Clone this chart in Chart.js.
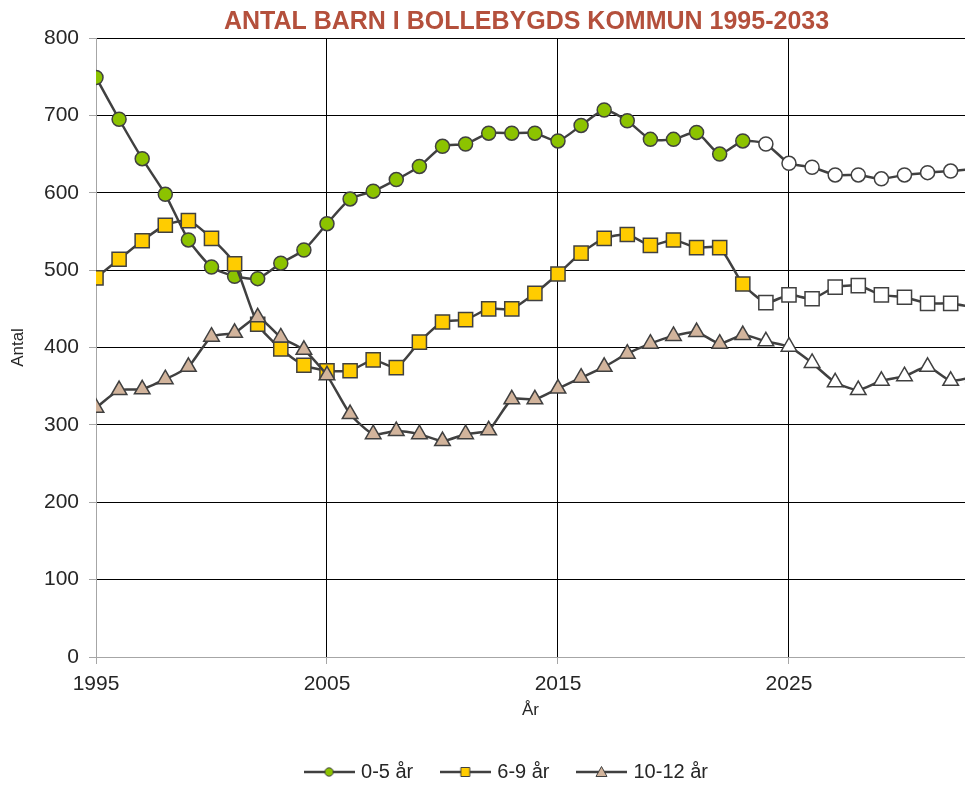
<!DOCTYPE html>
<html lang="sv">
<head>
<meta charset="utf-8">
<title>Antal barn i Bollebygds kommun 1995-2033</title>
<script src="https://cdn.jsdelivr.net/npm/chart.js@4"></script>
<style>
  html, body { margin: 0; padding: 0; background: #fff; overflow: hidden; }
  #wrap { position: relative; width: 965px; height: 789px; }
</style>
</head>
<body>
<div id="wrap"><canvas id="chart"></canvas></div>
<script>
// ── Data ───────────────────────────────────────────
const years = [
  1995, 1996, 1997, 1998, 1999, 2000, 2001, 2002, 2003, 2004,
  2005, 2006, 2007, 2008, 2009, 2010, 2011, 2012, 2013, 2014,
  2015, 2016, 2017, 2018, 2019, 2020, 2021, 2022, 2023, 2024,
  2025, 2026, 2027, 2028, 2029, 2030, 2031, 2032, 2033,
];
const age0to5 = [
  749, 695, 644, 598, 539, 504, 492, 489, 509, 526,
  560, 592, 602, 617, 634, 660, 663, 677, 677, 677,
  667, 687, 707, 693, 669, 669, 678, 650, 667, 663,
  638, 633, 623, 623, 618, 623, 626, 628, 631,
];
const age6to9 = [
  490, 514, 538, 558, 564, 541, 508, 430, 398, 377,
  370, 370, 384, 374, 407, 433, 436, 450, 450, 470,
  495, 522, 541, 546, 532, 539, 529, 529, 482, 458,
  468, 463, 478, 480, 468, 465, 457, 457, 452,
];
const age10to12 = [
  322, 345, 346, 359, 375, 414, 419, 439, 413, 397,
  364, 314, 288, 292, 288, 279, 288, 293, 333, 333,
  347, 361, 375, 392, 405, 415, 420, 405, 416, 408,
  401, 380, 355, 345, 357, 363, 375, 357, 362,
];
const seriesLabels = ['0-5 år', '6-9 år', '10-12 år'];
const xTicks = [1995, 2005, 2015, 2025];
const forecastFrom = 2024;   // open markers from here on (prognos)
const xMax = 2032.62;        // the plot is cut at the right edge

// ── Styles ─────────────────────────────────────────
const LINE = '#404040';
const GRID = '#000000';
const AXIS = '#a6a6a6';
const TEXT = '#262626';
const COLORS = ['#8cc300', '#ffcc00', '#d2b49c'];
const STYLES = ['circle', 'rect', 'triangle'];
const RADII = [7, 10, 9];

Chart.defaults.font.family = "'Liberation Sans', Arial, sans-serif";
Chart.defaults.color = TEXT;

const toPoints = (vals) => years.map((x, i) => ({ x, y: vals[i] }));
const fillsFor = (base) => years.map(y => (y >= forecastFrom ? '#ffffff' : base));

// small line + marker icon for the legend
function legendIcon(style, fill) {
  const c = document.createElement('canvas');
  c.width = 51;
  c.height = 14;
  const g = c.getContext('2d');
  g.strokeStyle = LINE;
  g.lineWidth = 2.5;
  g.beginPath();
  g.moveTo(0, 7);
  g.lineTo(51, 7);
  g.stroke();
  g.fillStyle = fill;
  g.lineWidth = 1;
  g.beginPath();
  if (style === 'circle') g.arc(25.5, 7, 4.2, 0, Math.PI * 2);
  else if (style === 'rect') g.rect(21, 2.5, 9, 9);
  else { g.moveTo(25.5, 1.5); g.lineTo(31, 11.5); g.lineTo(20, 11.5); g.closePath(); }
  g.fill();
  g.stroke();
  return c;
}
const legendIcons = STYLES.map((s, i) => legendIcon(s, COLORS[i]));

// title and legend sit a bit right of the canvas centre in the original
const shiftBoxes = {
  id: 'shiftBoxes',
  afterLayout(chart) {
    if (chart.titleBlock) { chart.titleBlock.left += 44; chart.titleBlock.right += 44; }
    if (chart.legend) { chart.legend.left += 25; chart.legend.right += 25; }
  },
};

const seriesData = [age0to5, age6to9, age10to12];

const datasets = seriesData.map((vals, i) => ({
  label: seriesLabels[i],
  data: toPoints(vals),
  order: 3 - i,
  borderColor: LINE,
  borderWidth: 2.5,
  tension: 0.2,
  pointStyle: STYLES[i],
  pointRadius: RADII[i],
  pointHoverRadius: RADII[i],
  pointBorderWidth: 1.5,
  pointBorderColor: LINE,
  pointBackgroundColor: fillsFor(COLORS[i]),
}));

new Chart(document.getElementById('chart'), {
  type: 'line',
  data: { datasets },
  plugins: [shiftBoxes],
  options: {
    responsive: true,
    maintainAspectRatio: false,
    animation: false,
    devicePixelRatio: 1,
    layout: { autoPadding: false, padding: { top: 0, left: 0, right: 0, bottom: -3 } },
    plugins: {
      title: {
        display: true,
        text: 'ANTAL BARN I BOLLEBYGDS KOMMUN 1995-2033',
        color: '#b4503c',
        font: { size: 25, weight: 'bold' },
        padding: { top: 7, bottom: 1 },
      },
      legend: {
        position: 'bottom',
        labels: {
          usePointStyle: true,
          pointStyleWidth: 44,
          color: TEXT,
          font: { size: 20 },
          padding: 30,
          generateLabels(chart) {
            const items = Chart.defaults.plugins.legend.labels.generateLabels(chart);
            items.sort((a, b) => a.datasetIndex - b.datasetIndex);
            items.forEach(it => { it.pointStyle = legendIcons[it.datasetIndex]; });
            return items;
          },
        },
      },
      tooltip: { enabled: false },
    },
    scales: {
      x: {
        type: 'linear',
        min: 1995,
        max: xMax,
        afterBuildTicks(scale) { scale.ticks = xTicks.map(v => ({ value: v })); },
        afterFit(scale) {
          scale.height = 75;
          scale.paddingRight = 0;   // plot runs to the window edge
        },
        ticks: { color: TEXT, font: { size: 21 }, padding: 8, callback: v => String(v) },
        grid: {
          color: ctx => (ctx.tick && ctx.tick.value === 1995 ? AXIS : GRID),
          tickColor: AXIS,
          tickLength: 7,
          lineWidth: 1,
        },
        border: { color: AXIS },
        title: { display: true, text: 'År', color: TEXT, font: { size: 17 }, padding: { top: 0, bottom: 11 } },
      },
      y: {
        min: 0,
        max: 800,
        afterFit(scale) { scale.width = 96; },
        ticks: { stepSize: 100, color: TEXT, font: { size: 21 }, padding: 10 },
        grid: {
          color: ctx => (ctx.tick && ctx.tick.value === 0 ? AXIS : GRID),
          tickColor: AXIS,
          tickLength: 7,
          lineWidth: 1,
        },
        border: { color: AXIS },
        title: { display: true, text: 'Antal', color: TEXT, font: { size: 17 }, padding: { top: 8, bottom: 0 } },
      },
    },
  },
});
</script>
</body>
</html>
